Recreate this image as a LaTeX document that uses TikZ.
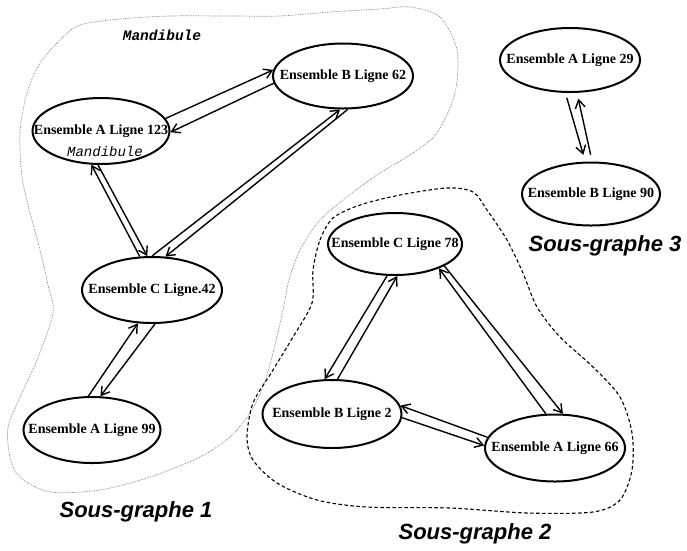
\documentclass[tikz,border=0pt]{standalone}
\usepackage{fontspec}
\setmainfont{Liberation Serif}
\newfontfamily\sgfont{Liberation Sans}
\newfontfamily\mandfont{Liberation Mono}
\usetikzlibrary{shapes.geometric,arrows.meta}
\tikzset{
  ens/.style={ellipse, draw, line width=2pt, inner sep=0pt,
    font=\bfseries\fontsize{14}{14}\selectfont},
  arr/.style={line width=1.4pt, -{Straight Barb[length=8pt,width=10pt,line width=1.4pt]}},
  sglabel/.style={font=\sgfont\bfseries\itshape\fontsize{22}{22}\selectfont},
  grpone/.style={line width=0.7pt, black!55, dash pattern=on 0.7pt off 1pt},
  grptwo/.style={line width=1.1pt, dash pattern=on 3.5pt off 2.5pt},
}
\begin{document}
\begin{tikzpicture}[x=1pt,y=-1pt]
\useasboundingbox (0,0) rectangle (687,550);
% group boundaries
\draw[grpone] plot[smooth cycle] coordinates {
 (80,25) (120,19) (170,16) (230,16) (280,16) (330,12) (380,9) (410,7) (440,17)
 (457,50) (455,93) (437,133) (413,153) (380,173) (347,197) (320,220) (300,250)
 (289,280) (283,310) (273,353) (263,387) (250,413) (230,437) (200,457) (150,477)
 (100,490) (50,492) (20,477) (10,457) (8,427) (20,397) (37,360) (53,313) (48,285)
 (40,250) (23,183) (20,133) (27,93) (40,63) (60,40)};
\draw[grptwo] plot[smooth cycle] coordinates {
 (313,270) (320,240) (333,218) (360,205) (400,195) (447,188) (473,192) (487,210)
 (507,240) (523,273) (537,307) (560,337) (593,367) (620,397) (632,433) (632,470)
 (620,500) (593,512) (527,513) (450,508) (367,507) (317,500) (277,483) (253,460)
 (247,437) (253,403) (273,370) (293,337) (312,303)};
% nodes
\node[ens, minimum width=137pt, minimum height=66pt] (A123) at (101,131) {\makebox[0pt]{Ensemble A Ligne 123}};
\node[font=\mandfont\itshape\fontsize{14}{14}\selectfont] (m2) at (105,152) {Mandibule};
\node[font=\mandfont\bfseries\itshape\fontsize{14.5}{14.5}\selectfont] (m1) at (162,35) {Mandibule};
\node[ens, minimum width=140pt, minimum height=65pt] (B62) at (343,76) {\makebox[0pt]{Ensemble B Ligne 62}};
\node[ens, minimum width=140pt, minimum height=66pt] (C42) at (152,290) {\makebox[0pt]{Ensemble C Ligne.42}};
\node[ens, minimum width=137pt, minimum height=66pt] (A99) at (92,430) {\makebox[0pt]{Ensemble A Ligne 99}};
\node[ens, minimum width=134pt, minimum height=62pt] (C78) at (395,244) {\makebox[0pt]{Ensemble C Ligne 78}};
\node[ens, minimum width=139pt, minimum height=68pt] (B2) at (332,414) {\makebox[0pt]{Ensemble B Ligne 2}};
\node[ens, minimum width=140pt, minimum height=67pt] (A66) at (555,448) {\makebox[0pt]{Ensemble A Ligne 66}};
\node[ens, minimum width=140pt, minimum height=64pt] (A29) at (570,60) {\makebox[0pt]{Ensemble A Ligne 29}};
\node[ens, minimum width=138pt, minimum height=63pt] (B90) at (591,194) {\makebox[0pt]{Ensemble B Ligne 90}};
% labels
\node[sglabel] (s1) at (136,512) {Sous-graphe 1};
\node[sglabel] (s2) at (475,534) {Sous-graphe 2};
\node[sglabel] (s3) at (605,246) {Sous-graphe 3};
% connectors
\draw[arr] (A123.11) -- (B62.175);
\draw[arr] (B62.186) -- (A123.359);
\draw[arr] (C42.110) -- (A123.254);
\draw[arr] (A123.265) -- (C42.98);
\draw[arr] (C42.90) -- (B62.265);
\draw[arr] (B62.278) -- (C42.68);
\draw[arr] (A99.96) -- (C42.247);
\draw[arr] (C42.275) -- (A99.76);
\draw[arr, shorten <=5pt, shorten >=7pt] (A29.262) -- (B90.100);
\draw[arr, shorten <=7pt, shorten >=6pt] (B90.88) -- (A29.282);
\draw[arr] (C78.256) -- (B2.102);
\draw[arr] (B2.81) -- (C78.274);
\draw[arr] (A66.105) -- (C78.331);
\draw[arr] (C78.336) -- (A66.77);
\draw[arr] (A66.171) -- (B2.7);
\draw[arr] (B2.357) -- (A66.178);
\end{tikzpicture}
\end{document}
